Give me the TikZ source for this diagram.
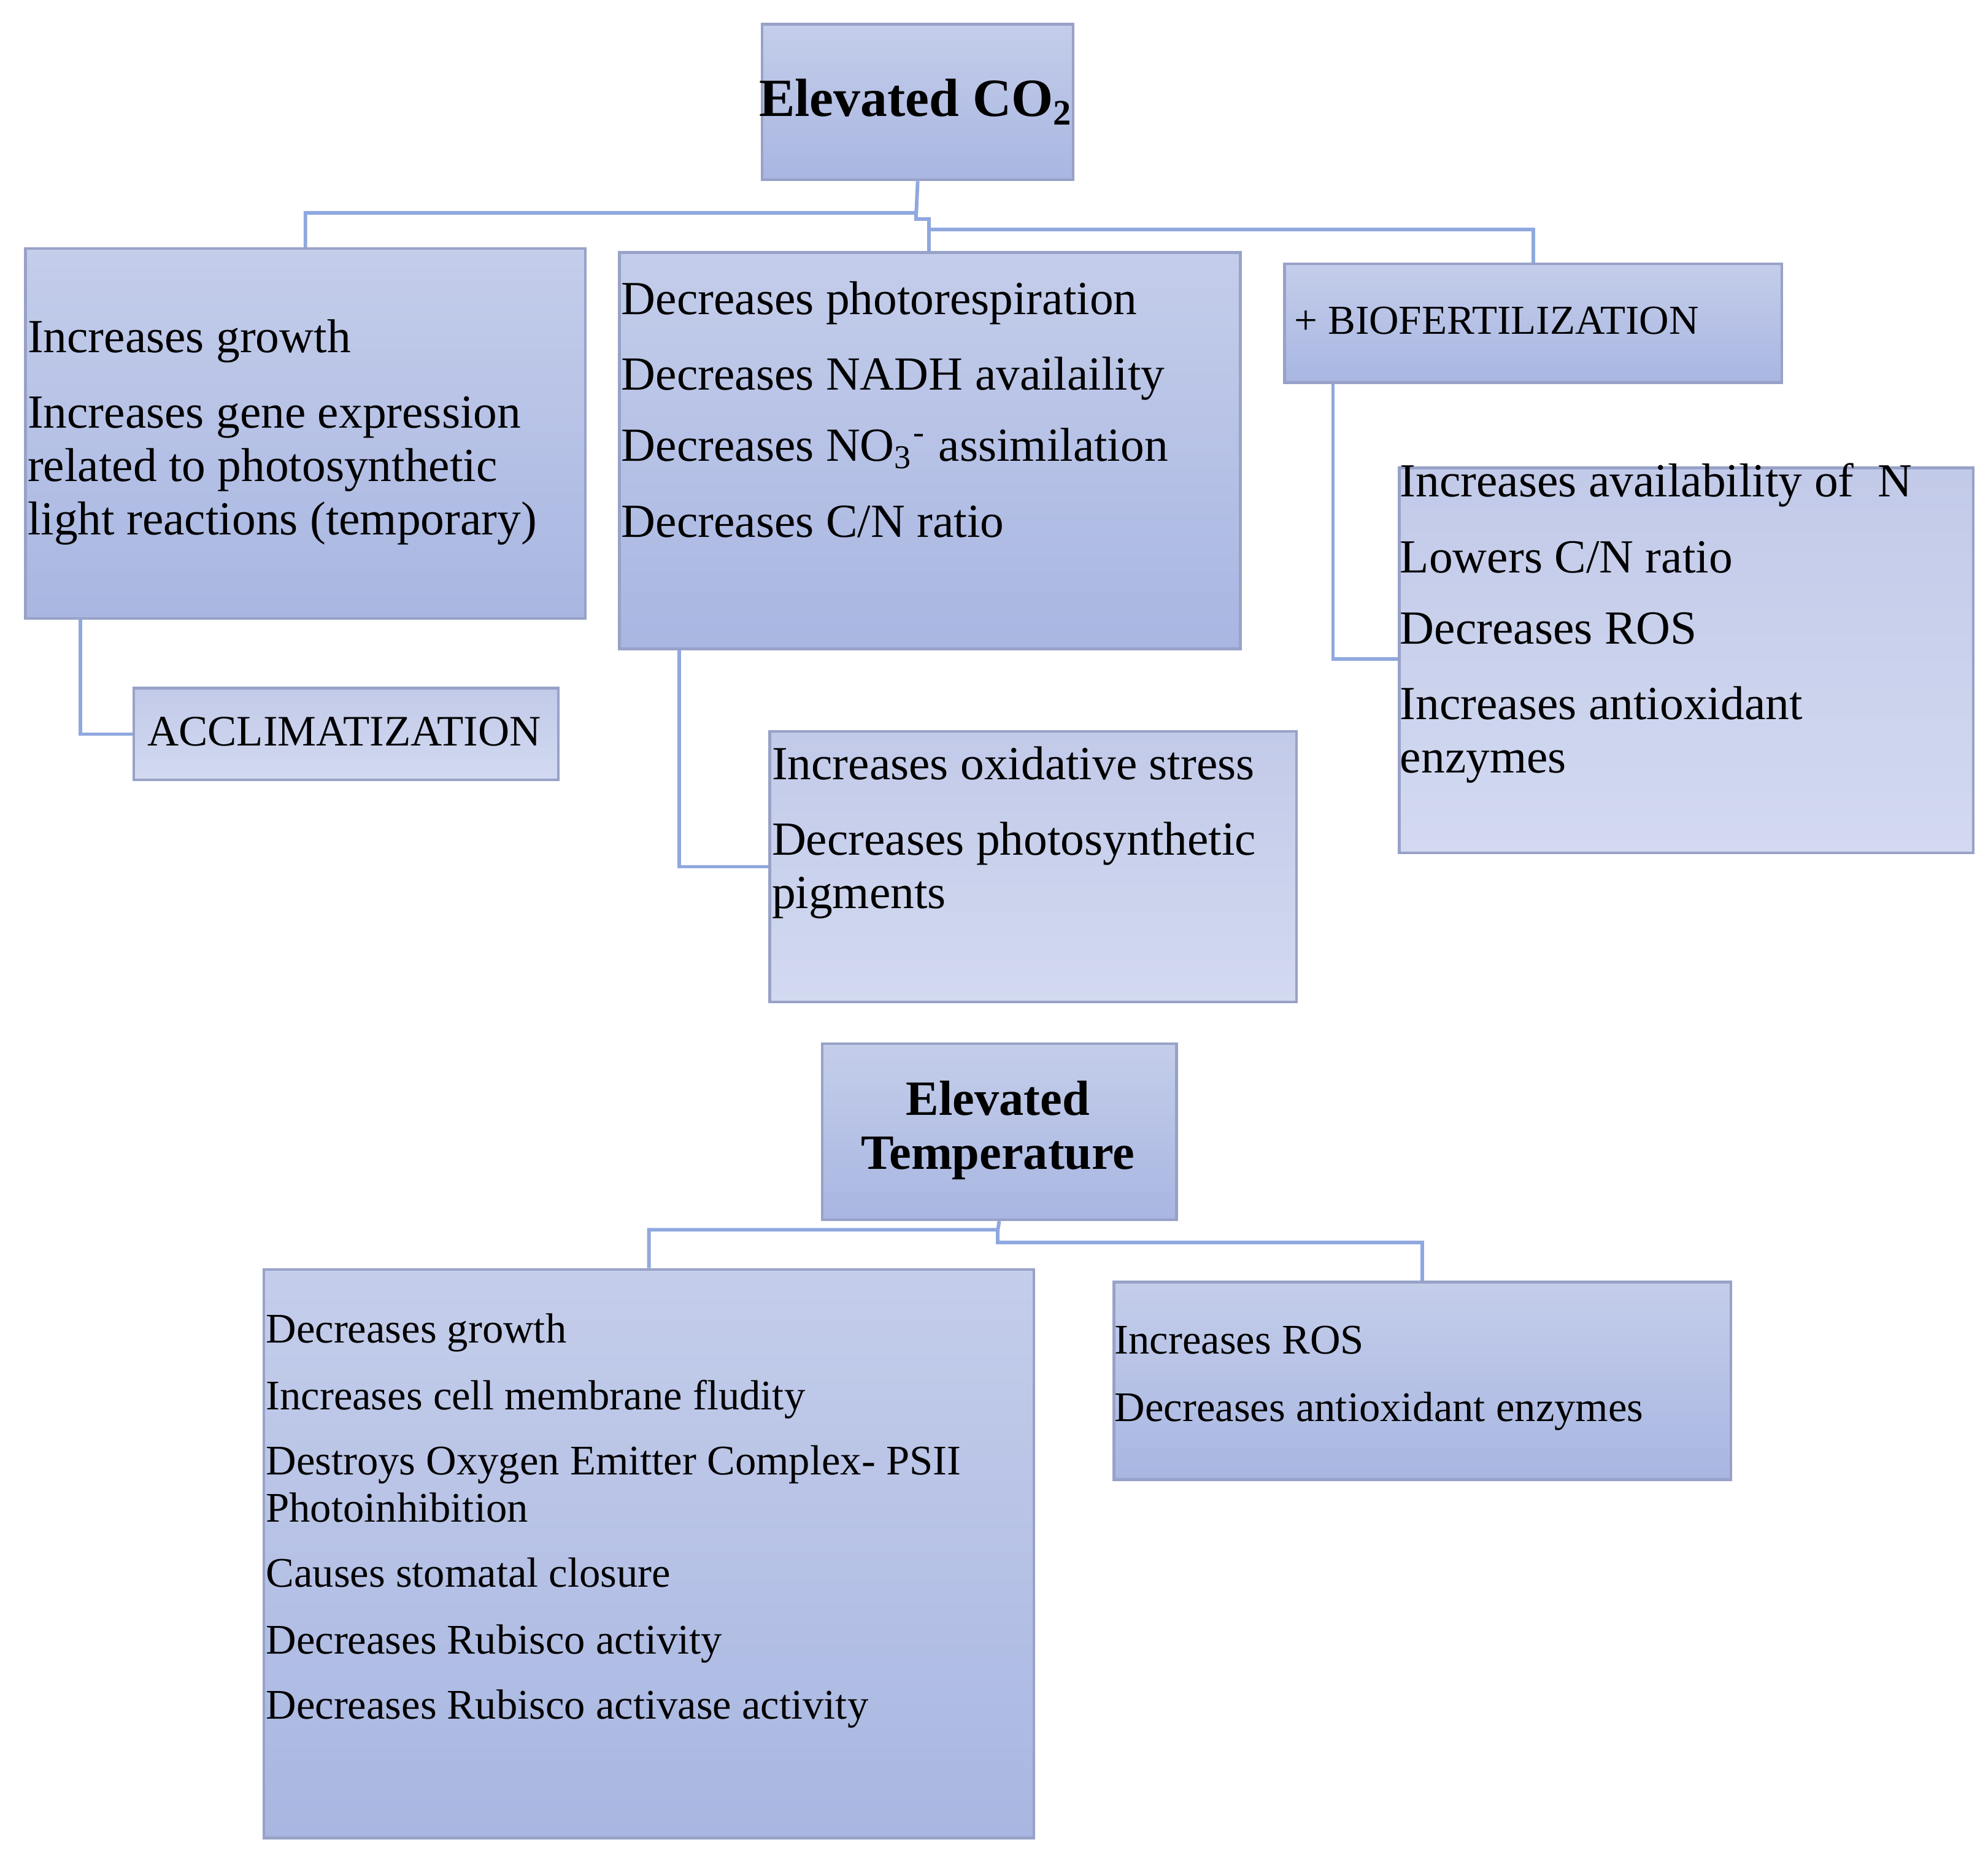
\documentclass[tikz,border=0pt]{standalone}
\usepackage{fontspec}
\setmainfont{Liberation Serif}
\begin{document}
\begin{tikzpicture}[x=0.01cm,y=-0.01cm,
  box/.style={draw=bordc,line width=0.6pt,top color=topc,bottom color=botc,inner sep=0pt,anchor=north west},
  lbox/.style={box,top color=ltopc,bottom color=lbotc},
  txt/.style={anchor=north west,align=left,inner sep=0pt,font=\fontsize{10.6}{11.9}\selectfont},
  stxt/.style={anchor=north west,align=left,inner sep=0pt,font=\fontsize{9.4}{10.5}\selectfont},
  conn/.style={draw=connc,line width=0.8pt}]
\definecolor{topc}{HTML}{C4CDEA}
\definecolor{botc}{HTML}{A8B6E1}
\definecolor{ltopc}{HTML}{C2CAE9}
\definecolor{lbotc}{HTML}{D2D9F0}
\definecolor{bordc}{HTML}{98A2C8}
\definecolor{connc}{HTML}{8FA8DF}
\useasboundingbox[fill=white] (0,0) rectangle (1560,1454);
% boxes
\node[box,minimum width=2.44cm,minimum height=1.22cm] (co2) at (597,18) {};
\node[box,minimum width=4.39cm,minimum height=2.90cm] (lft) at (19,194) {};
\node[box,minimum width=4.87cm,minimum height=3.11cm] (mid) at (485,197) {};
\node[box,minimum width=3.90cm,minimum height=0.93cm] (bio) at (1007,206) {};
\node[lbox,minimum width=3.33cm,minimum height=0.72cm] (acc) at (104,539) {};
\node[lbox,minimum width=4.13cm,minimum height=2.12cm] (oxi) at (603,573) {};
\node[lbox,minimum width=4.50cm,minimum height=3.02cm] (rgt) at (1097,366) {};
\node[box,minimum width=2.78cm,minimum height=1.38cm] (tmp) at (644,818) {};
\node[box,minimum width=6.04cm,minimum height=4.46cm] (tl) at (206,995) {};
\node[box,minimum width=4.84cm,minimum height=1.55cm] (tr) at (873,1005) {};
% texts
\node[anchor=center,font=\fontsize{12}{12}\bfseries] (co2t) at (719,80) {Elevated CO\textsubscript{2}};
\node[txt] (lftt) at (21,250) {Increases growth\\[5pt] Increases gene expression\\ related to photosynthetic\\ light reactions (temporary)};
\node[txt] (midt) at (487,220) {Decreases photorespiration\\[5pt] Decreases NADH availaility\\[4pt] Decreases NO\textsubscript{3}\textsuperscript{-} assimilation\\[5pt] Decreases C/N ratio};
\node[txt,font=\fontsize{9.2}{12}\selectfont] (biot) at (1015,240) {+ BIOFERTILIZATION};
\node[txt,font=\fontsize{9.7}{12}\selectfont] (acct) at (115,562) {ACCLIMATIZATION};
\node[txt] (oxit) at (605,585) {Increases oxidative stress\\[5pt] Decreases photosynthetic\\ pigments};
\node[txt] (rgtt) at (1098,363) {Increases availability of\ \ N\\[5pt] Lowers C/N ratio\\[4pt] Decreases ROS\\[5pt] Increases antioxidant\\ enzymes};
\node[anchor=center,align=center,font=\fontsize{11}{12}\bfseries] (tmpt) at (783,887) {Elevated\\ Temperature};
\node[stxt] (tlt) at (208,1030) {Decreases growth\\[4.5pt] Increases cell membrane fludity\\[4pt] Destroys Oxygen Emitter Complex- PSII\\ Photoinhibition\\[4pt] Causes stomatal closure\\[4.5pt] Decreases Rubisco activity\\[4pt] Decreases Rubisco activase activity};
\node[stxt] (trt) at (874,1040) {Increases ROS\\[4.5pt] Decreases antioxidant enzymes};
% connectors
\coordinate (j1) at (719,167);
\coordinate (j2) at (729,180);
\draw[conn] (co2.south) -- (j1) -| (lft.north);
\draw[conn] (j1) -- (719,172) -- (729,172) -- (mid.north -| j2);
\draw[conn] (j2) -| (bio.north);
\draw[conn] (lft.south west) ++(44,0) |- (acc.west);
\draw[conn] (mid.south west) ++(48,0) |- (oxi.west);
\draw[conn] (bio.south west) ++(39,0) |- (rgt.west |- 0,517);
\coordinate (j3) at (783,965);
\draw[conn] (tmp.south) -- (j3) -| (tl.north);
\draw[conn] (j3) -- (783,975) -| (tr.north);
\end{tikzpicture}
\end{document}
